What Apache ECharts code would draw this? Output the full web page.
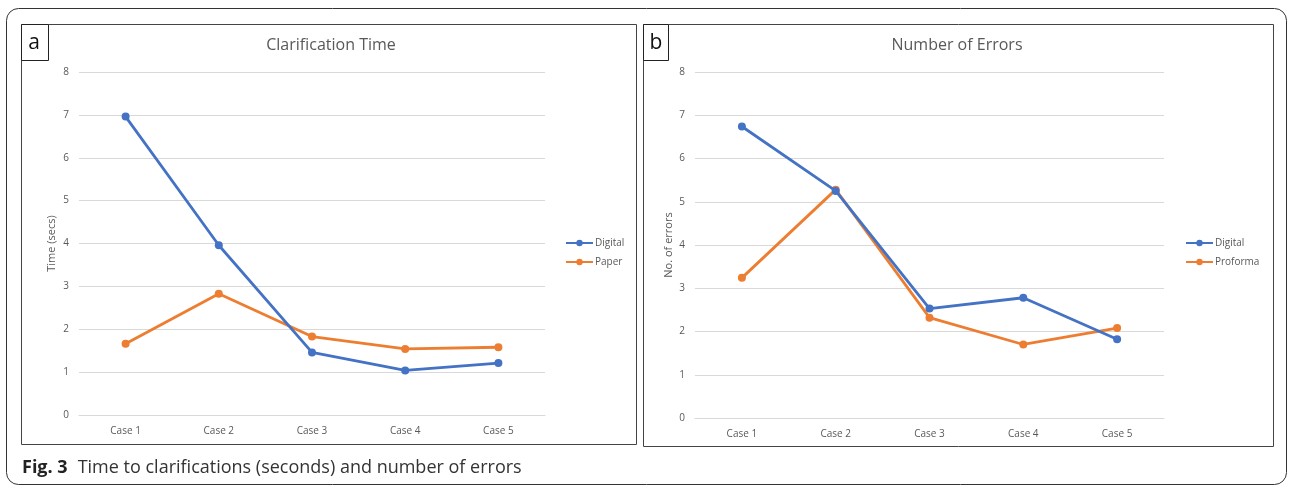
<!DOCTYPE html>
<html>
<head>
<meta charset="utf-8">
<script src="https://cdn.jsdelivr.net/npm/echarts@6/dist/echarts.min.js"></script>
<style>
  html, body { margin: 0; padding: 0; background: #fff; }
  #chart { width: 1290px; height: 490px; }
</style>
</head>
<body>
<div id="chart"></div>
<script>
// categories and values
const cases = ['Case 1', 'Case 2', 'Case 3', 'Case 4', 'Case 5']
const yTicks = [0, 1, 2, 3, 4, 5, 6, 7, 8]

// panel a: clarification time (secs)
const timeDigital = [6.96, 3.96, 1.46, 1.04, 1.21]
const timePaper = [1.66, 2.83, 1.83, 1.54, 1.58]

// panel b: number of errors
const errDigital = [6.74, 5.25, 2.53, 2.78, 1.82]
const errProforma = [3.24, 5.28, 2.32, 1.70, 2.08]

const BLUE = '#4472C4'
const ORANGE = '#ED7D31'
const GREY = '#595959'
const FONT = '"Open Sans", "Noto Sans", sans-serif'

const chart = echarts.init(document.getElementById('chart'))

function lineSeries(name, data, color, idx) {
  return {
    name,
    type: 'line',
    xAxisIndex: idx,
    yAxisIndex: idx,
    data,
    symbol: 'circle',
    symbolSize: 8,
    lineStyle: { width: 2.8, color },
    itemStyle: { color },
    z: name === 'Digital' ? 3 : 2,
  }
}

function yAxis(idx, name, gap) {
  return {
    type: 'value',
    gridIndex: idx,
    min: yTicks[0],
    max: yTicks[yTicks.length - 1],
    interval: 1,
    name,
    nameLocation: 'middle',
    nameGap: gap,
    nameTextStyle: { color: GREY, fontSize: 11, fontFamily: FONT },
    axisLine: { show: false },
    axisTick: { show: false },
    axisLabel: { color: GREY, fontSize: 10, fontFamily: FONT, margin: 10 },
    splitLine: { lineStyle: { color: '#d9d9d9', width: 1 } },
  }
}

function xAxis(idx) {
  return {
    type: 'category',
    gridIndex: idx,
    data: cases,
    boundaryGap: true,
    axisLine: { lineStyle: { color: '#d9d9d9' } },
    axisTick: { show: false },
    axisLabel: { color: GREY, fontSize: 10, fontFamily: FONT, margin: 11 },
  }
}

function legend(names, left) {
  return {
    data: names,
    orient: 'vertical',
    left,
    top: 233,
    itemWidth: 27,
    itemHeight: 8,
    itemGap: 9,
    textStyle: { color: GREY, fontSize: 10, fontFamily: FONT, padding: [0, 0, 0, -3] },
  }
}

const option = {
  animation: false,
  title: [
    { text: 'Clarification Time', left: 331, top: 37, textAlign: 'center', padding: 0,
      textStyle: { color: GREY, fontSize: 16, fontWeight: 'normal', fontFamily: FONT } },
    { text: 'Number of Errors', left: 957, top: 37, textAlign: 'center', padding: 0,
      textStyle: { color: GREY, fontSize: 16, fontWeight: 'normal', fontFamily: FONT } },
  ],
  legend: [
    legend(['Digital', 'Paper'], 560),
    legend(['Digital', 'Proforma'], 1180),
  ],
  grid: [
    { left: 79, top: 72, width: 466, height: 343 },
    { left: 695, top: 72, width: 469, height: 346 },
  ],
  xAxis: [xAxis(0), xAxis(1)],
  yAxis: [yAxis(0, 'Time (secs)', 22), yAxis(1, 'No. of errors', 21)],
  series: [
    lineSeries('Digital', timeDigital, BLUE, 0),
    lineSeries('Paper', timePaper, ORANGE, 0),
    lineSeries('Digital', errDigital, BLUE, 1),
    lineSeries('Proforma', errProforma, ORANGE, 1),
  ],
  graphic: [
    // outer frame
    { type: 'rect', shape: { x: 6.5, y: 8.5, width: 1280, height: 476, r: 12 },
      style: { fill: 'none', stroke: '#333', lineWidth: 1 }, silent: true },
    // panel frames
    { type: 'rect', shape: { x: 21.5, y: 24.5, width: 615, height: 420 },
      style: { fill: 'none', stroke: '#444', lineWidth: 1 }, silent: true },
    { type: 'rect', shape: { x: 643.5, y: 24.5, width: 630, height: 422 },
      style: { fill: 'none', stroke: '#444', lineWidth: 1 }, silent: true },
    // panel letters
    { type: 'rect', shape: { x: 21.5, y: 24.5, width: 27, height: 36 },
      style: { fill: '#fff', stroke: '#222', lineWidth: 1 }, silent: true },
    { type: 'text', x: 34, y: 43,
      style: { text: 'a', fill: '#111', font: '21px ' + FONT, align: 'center', verticalAlign: 'middle' } },
    { type: 'rect', shape: { x: 643.5, y: 24.5, width: 25, height: 36 },
      style: { fill: '#fff', stroke: '#222', lineWidth: 1 }, silent: true },
    { type: 'text', x: 656, y: 43,
      style: { text: 'b', fill: '#111', font: '21px ' + FONT, align: 'center', verticalAlign: 'middle' } },
    // caption
    { type: 'text', x: 22, y: 468,
      style: {
        text: '{b|Fig. 3}   {n|Time to clarifications (seconds) and number of errors}',
        verticalAlign: 'middle',
        rich: {
          b: { font: 'bold 18px ' + FONT, fill: '#222' },
          n: { font: '18px ' + FONT, fill: '#333' },
        },
      } },
  ],
}

chart.setOption(option)
</script>
</body>
</html>
